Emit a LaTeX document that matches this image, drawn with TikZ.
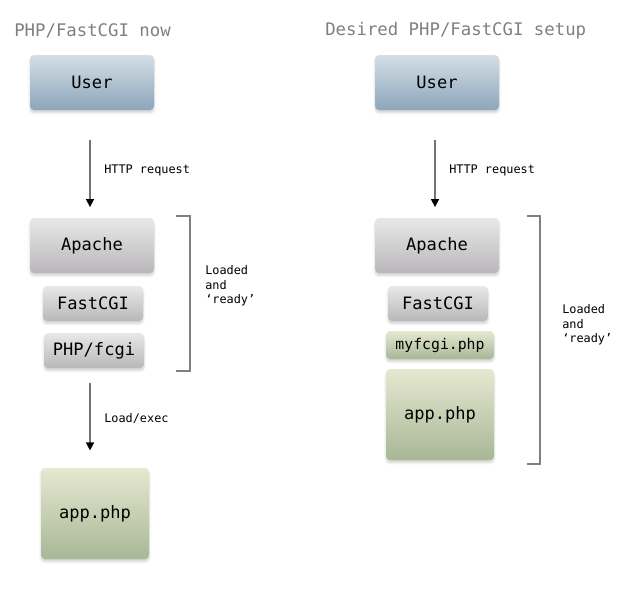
\documentclass[tikz,border=0pt]{standalone}
\usepackage{fontspec}
\setmonofont{DejaVu Sans Mono}
\usepackage{xcolor}
\usetikzlibrary{arrows.meta, shadows.blur}

\definecolor{usertop}{HTML}{D3DEE7}
\definecolor{userbot}{HTML}{8DA6BB}
\definecolor{graytop}{HTML}{E9E8E9}
\definecolor{graybot}{HTML}{B9B7B9}
\definecolor{greentop}{HTML}{E6E8D0}
\definecolor{greenbot}{HTML}{A8B796}
\definecolor{titlegray}{HTML}{808080}

\begin{document}
\begin{tikzpicture}[
    x=0.75pt, y=-0.75pt,
    box/.style={rectangle, rounded corners=3pt, inner sep=0pt, align=center,
        font=\ttfamily\fontsize{12.8}{15}\selectfont,
        blur shadow={shadow blur steps=6, shadow xshift=0pt, shadow yshift=-2pt, shadow opacity=18}},
    userbox/.style={box, top color=usertop, bottom color=userbot, minimum width=93pt, minimum height=41.25pt},
    srvbox/.style={box, top color=graytop, bottom color=graybot, minimum width=93pt, minimum height=41.25pt},
    modbox/.style={box, top color=graytop, bottom color=graybot, minimum width=75pt, minimum height=26.25pt},
    appbox/.style={box, top color=greentop, bottom color=greenbot, minimum width=81pt, minimum height=68.25pt},
    title/.style={anchor=west, inner sep=0pt, text=titlegray, font=\ttfamily\fontsize{13}{15}\selectfont},
    lbl/.style={anchor=west, inner sep=0pt, align=left, font=\ttfamily\fontsize{8.9}{10.9}\selectfont},
    flow/.style={draw=black!55, line width=1.2pt, -{Triangle[length=6pt, width=6pt, color=black]}},
    brace/.style={draw=black!50, line width=1.2pt},
]
\useasboundingbox (0,0) rectangle (628,590);

% Left: current setup
\node[title] (titleL) at (14,31) {PHP/FastCGI now};
\node[userbox] (userL) at (92,82.5) {User};
\node[srvbox] (apacheL) at (92,245.5) {Apache};
\node[modbox] (fcgiL) at (93,303.5) {FastCGI};
\node[modbox] (phpL) at (94,350.5) {PHP/fcgi};
\node[appbox] (appL) at (95,513.5) {app.php};

\draw[flow, shorten <=22pt, shorten >=8pt] ([xshift=-1.5pt]userL.south) -- ([xshift=-1.5pt]apacheL.north);
\node[lbl] (httpL) at (104,170) {HTTP request};
\draw[flow, shorten <=11pt, shorten >=13pt] ([xshift=-3pt]phpL.south) -- ([xshift=-3.75pt]appL.north);
\node[lbl] (execL) at (104,419) {Load/exec};

% bracket round the loaded parts
\draw[brace] (176,216) -- (190,216) -- (190,371) -- (176,371);
\node[lbl] (readyL) at (205,286) {Loaded\\and\\‘ready’};

% Right: desired setup
\node[title] (titleR) at (325,31) {Desired PHP/FastCGI setup};
\node[userbox] (userR) at (437,82.5) {User};
\node[srvbox] (apacheR) at (437,245.5) {Apache};
\node[modbox] (fcgiR) at (438,303.5) {FastCGI};
\node[box, top color=greentop, bottom color=greenbot, minimum width=81pt, minimum height=21pt,
    font=\ttfamily\fontsize{11.1}{13}\selectfont] (myfcgiR) at (440,345) {myfcgi.php};
\node[appbox] (appR) at (440,414.5) {app.php};

\draw[flow, shorten <=22pt, shorten >=8pt] ([xshift=-1.5pt]userR.south) -- ([xshift=-1.5pt]apacheR.north);
\node[lbl] (httpR) at (449,170) {HTTP request};

\draw[brace] (527,216) -- (540,216) -- (540,464) -- (527,464);
\node[lbl] (readyR) at (562,325) {Loaded\\and\\‘ready’};

\end{tikzpicture}
\end{document}
